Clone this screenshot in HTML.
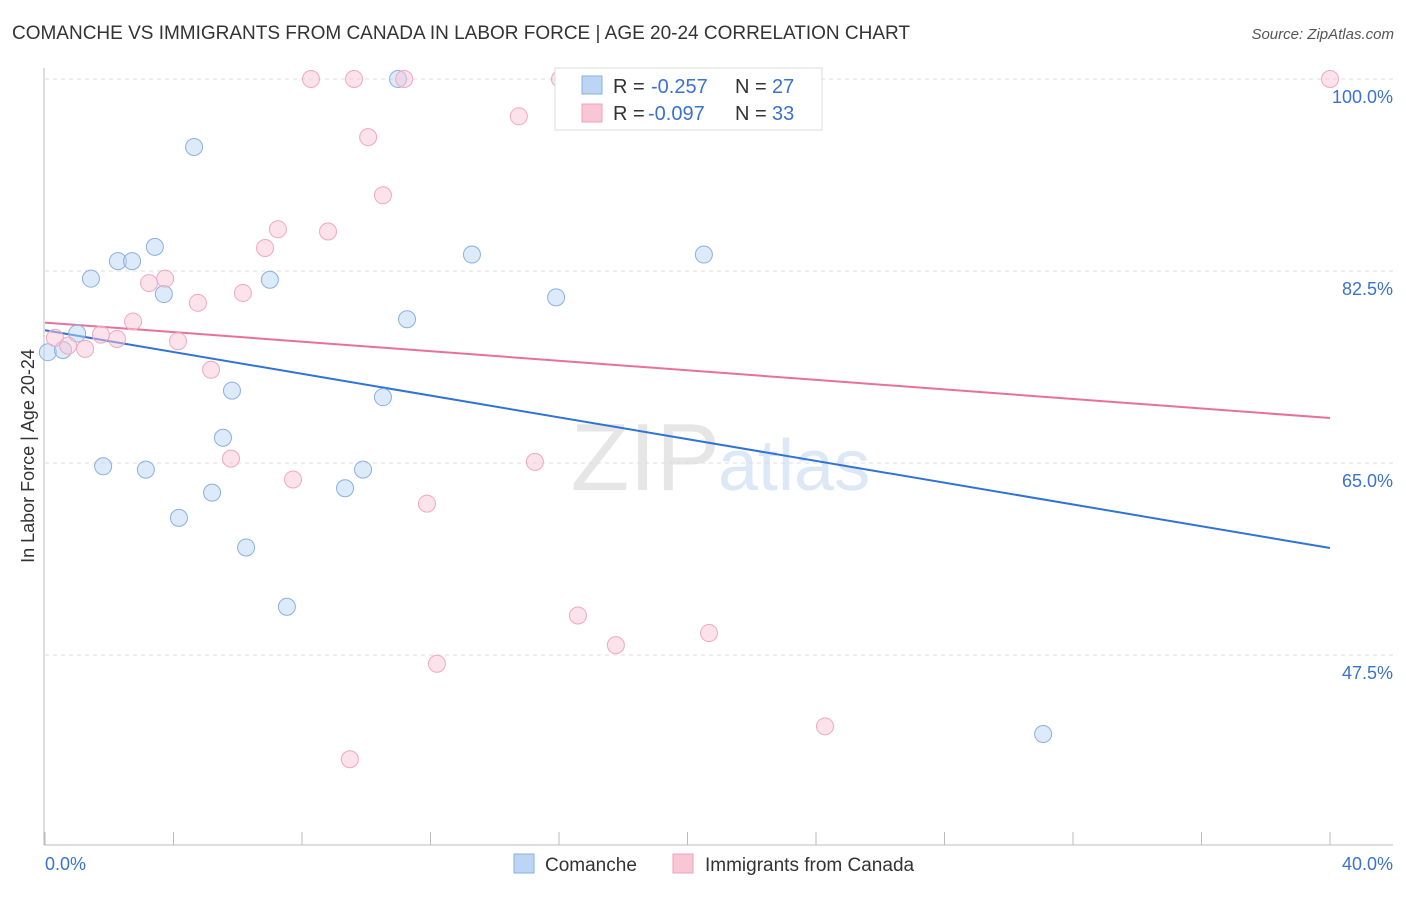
<!DOCTYPE html>
<html><head><meta charset="utf-8"><style>
body{margin:0;background:#fff;font-family:"Liberation Sans",sans-serif;}
svg text{font-family:"Liberation Sans",sans-serif;}
</style></head><body>
<svg id="chart" width="1406" height="892" viewBox="0 0 1406 892">
<text x="12" y="39" font-size="19" fill="#333" textLength="898">COMANCHE VS IMMIGRANTS FROM CANADA IN LABOR FORCE | AGE 20-24 CORRELATION CHART</text>
<text x="1394" y="39" font-size="15" fill="#555" font-style="italic" text-anchor="end">Source: ZipAtlas.com</text>
<text x="720" y="490" font-size="96" fill="#e6e6e6" text-anchor="end" font-family="Liberation Serif">ZIP</text>
<text x="718" y="490" font-size="72" fill="#dce8f6">atlas</text>
<g id="grid"></g><g id="axes"></g><g id="trend"></g><g id="points"></g>
<text transform="translate(34,456) rotate(-90)" font-size="18" fill="#333" text-anchor="middle">In Labor Force | Age 20-24</text>
<text x="45" y="870" font-size="18" fill="#3a72d0">0.0%</text>
<text x="1393" y="870" font-size="18" fill="#3a72d0" text-anchor="end">40.0%</text>
<g>
<rect x="555" y="68" width="267" height="62" fill="#fff" stroke="#ddd"/>
<rect x="582" y="76" width="20" height="18" fill="#bcd5f5" stroke="#8ab0e0"/>
<rect x="582" y="104" width="20" height="18" fill="#f9c6d6" stroke="#f0a0b8"/>
<text x="613" y="93" font-size="20" fill="#333">R =</text>
<text x="651" y="93" font-size="20" fill="#3a72d0">-0.257</text>
<text x="735" y="93" font-size="20" fill="#333">N =</text>
<text x="772" y="93" font-size="20" fill="#3a72d0">27</text>
<text x="613" y="120" font-size="20" fill="#333">R =</text>
<text x="648" y="120" font-size="20" fill="#3a72d0">-0.097</text>
<text x="735" y="120" font-size="20" fill="#333">N =</text>
<text x="772" y="120" font-size="20" fill="#3a72d0">33</text>
</g>
<g><rect x="514" y="854" width="20" height="19" fill="#bcd5f5" stroke="#8ab0e0"/><text x="545" y="871" font-size="19" fill="#333">Comanche</text></g>
<g><rect x="673" y="854" width="20" height="19" fill="#f9c6d6" stroke="#f0a0b8"/><text x="705" y="871" font-size="19" fill="#333">Immigrants from Canada</text></g>
</svg>
<script>
const yTicks=[100,82.5,65,47.5];
const xTickCount=10;
const blueX=[0.09,0.56,1.0,1.43,2.27,2.71,3.42,3.70,4.64,1.81,3.14,4.17,5.20,5.54,5.82,6.26,7.0,7.53,9.34,9.90,10.52,10.99,11.27,13.29,15.91,20.51,31.07];
const blueY=[75.1,75.3,76.8,81.8,83.4,83.4,84.7,80.4,93.8,64.7,64.4,60.0,62.3,67.3,71.6,57.3,81.7,51.9,62.7,64.4,71.0,100,78.1,84.0,80.1,84.0,40.3];
const pinkX=[0.31,0.72,1.25,1.74,2.24,2.74,3.24,3.74,4.14,4.76,5.17,5.79,6.16,6.85,7.25,7.72,8.28,8.81,9.49,9.62,10.06,10.52,11.18,11.89,12.20,14.75,15.25,16.03,16.59,17.77,20.67,24.28,40.0];
const pinkY=[76.4,75.7,75.4,76.7,76.3,77.9,81.4,81.8,76.1,79.6,73.5,65.4,80.5,84.6,86.3,63.5,100,86.1,38.0,100,94.7,89.4,100,61.3,46.7,96.6,65.1,100,51.1,48.4,49.5,41.0,100];
const blueTrend=[77.1,57.25];
const pinkTrend=[77.8,69.1];
const NS='http://www.w3.org/2000/svg';
const xs=v=>45+v/40*1285;
const ys=v=>79+(100-v)/17.5*192;
function mk(tag,attrs,parent){const e=document.createElementNS(NS,tag);for(const k in attrs)e.setAttribute(k,attrs[k]);document.getElementById(parent).appendChild(e);return e;}
yTicks.forEach(t=>{
 const l=mk('line',{x1:45,x2:1393,y1:ys(t),y2:ys(t),stroke:'#ddd','stroke-dasharray':'4,4'},'grid');
 
 
 const tx=mk('text',{x:1393,y:ys(t)+24,'font-size':18,fill:'#3a72d0','text-anchor':'end'},'grid');
 tx.textContent=t.toFixed(1)+'%';
 
 
});
let a=mk('line',{x1:44,x2:44,y1:68,y2:845,stroke:'#bbb'},'axes');


a=mk('line',{x1:44,x2:1393,y1:845,y2:845,stroke:'#bbb'},'axes');


for(let i=0;i<=xTickCount;i++){const t=mk('line',{x1:xs(i*4),x2:xs(i*4),y1:832,y2:845,stroke:'#bbb'},'axes');
 
 }
function trend(v,c,n){const l=mk('line',{x1:xs(0),y1:ys(v[0]),x2:xs(40),y2:ys(v[1]),stroke:c,'stroke-width':2},'trend');
 
 }
trend(blueTrend,'#2f72d8','comanche-trendline');
trend(pinkTrend,'#e8709a','immigrants-trendline');
function pts(X,Y,f,s,n){X.forEach((x,i)=>{const c=mk('circle',{cx:xs(x),cy:ys(Y[i]),r:8.5,fill:f,'fill-opacity':0.5,stroke:s,'stroke-width':1},'points');
 
 });}
pts(blueX,blueY,'#bcd5f5','#8ab0e0','comanche-point');
pts(pinkX,pinkY,'#f9c6d6','#f0a8c0','immigrants-point');
</script>
</body></html>
